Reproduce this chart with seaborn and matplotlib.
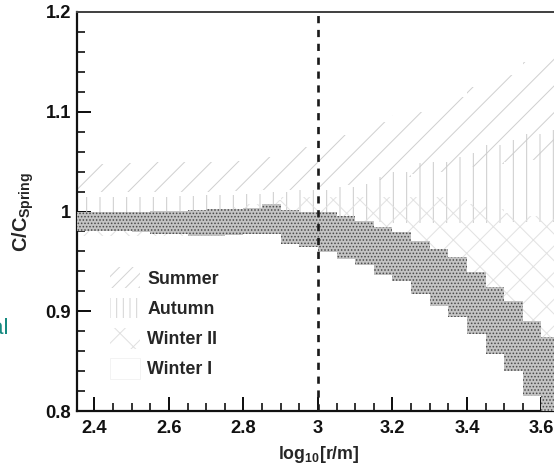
import matplotlib
matplotlib.use('Agg')
import matplotlib.pyplot as plt
from matplotlib.patches import Patch
from matplotlib.ticker import FixedLocator, MultipleLocator, FuncFormatter
import seaborn as sns

# data: bands per log10(r) bin (left edges, width 0.05)
bin_left = [2.35, 2.40, 2.45, 2.50, 2.55, 2.60, 2.65, 2.70, 2.75, 2.80, 2.85, 2.90, 2.95,
            3.00, 3.05, 3.10, 3.15, 3.20, 3.25, 3.30, 3.35, 3.40, 3.45, 3.50, 3.55, 3.60]
bin_right_edge = 3.65

summer_hi = [1.048, 1.048, 1.049, 1.049, 1.050, 1.050, 1.050, 1.050, 1.051, 1.052, 1.055, 1.060, 1.065,
             1.070, 1.077, 1.080, 1.090, 1.097, 1.100, 1.105, 1.115, 1.125, 1.132, 1.137, 1.150, 1.158]
summer_lo = [1.020, 1.020, 1.020, 1.020, 1.020, 1.020, 1.020, 1.020, 1.021, 1.021, 1.022, 1.022, 1.024,
             1.025, 1.027, 1.030, 1.032, 1.035, 1.038, 1.040, 1.043, 1.045, 1.048, 1.050, 1.052, 1.055]

autumn_hi = [1.015, 1.015, 1.015, 1.015, 1.015, 1.016, 1.016, 1.017, 1.017, 1.018, 1.020, 1.020, 1.022,
             1.022, 1.025, 1.028, 1.035, 1.040, 1.049, 1.050, 1.055, 1.059, 1.067, 1.072, 1.078, 1.082]
autumn_lo = [0.990, 0.990, 0.990, 0.990, 0.990, 0.990, 0.990, 0.990, 0.990, 0.990, 0.990, 0.990, 0.990,
             0.990, 0.990, 0.989, 0.989, 0.988, 0.988, 0.988, 0.988, 0.988, 0.988, 0.989, 0.989, 0.989]

winter2_hi = [0.995, 0.995, 0.995, 0.995, 0.995, 0.996, 0.998, 1.000, 1.005, 1.008, 1.012, 1.015, 1.015,
              1.015, 1.015, 1.015, 1.015, 1.015, 1.015, 1.015, 1.012, 1.008, 1.003, 0.998, 0.995, 0.993]
winter2_lo = [0.975, 0.975, 0.975, 0.975, 0.975, 0.975, 0.975, 0.976, 0.977, 0.978, 0.978, 0.975, 0.972,
              0.968, 0.963, 0.958, 0.950, 0.945, 0.935, 0.925, 0.915, 0.900, 0.885, 0.870, 0.855, 0.840]

winter1_hi = [1.000, 1.000, 1.000, 1.000, 1.001, 1.001, 1.002, 1.003, 1.003, 1.004, 1.008, 1.002, 1.000,
              0.999, 0.995, 0.990, 0.984, 0.979, 0.970, 0.962, 0.954, 0.939, 0.924, 0.910, 0.890, 0.874]
winter1_lo = [0.980, 0.980, 0.980, 0.979, 0.977, 0.977, 0.975, 0.975, 0.976, 0.977, 0.977, 0.967, 0.964,
              0.959, 0.952, 0.946, 0.936, 0.930, 0.917, 0.905, 0.894, 0.877, 0.857, 0.840, 0.815, 0.795]

seasons = ['Summer', 'Autumn', 'Winter II', 'Winter I']
xticks = [2.4, 2.6, 2.8, 3.0, 3.2, 3.4, 3.6]
yticks = [0.8, 0.9, 1.0, 1.1, 1.2]

sns.set_style('ticks')
plt.rcParams['font.family'] = ['Liberation Sans', 'DejaVu Sans']
plt.rcParams['font.weight'] = 'bold'
plt.rcParams['axes.labelweight'] = 'bold'
plt.rcParams['mathtext.fontset'] = 'custom'
plt.rcParams['mathtext.rm'] = 'Liberation Sans:bold'
plt.rcParams['mathtext.bf'] = 'Liberation Sans:bold'
plt.rcParams['hatch.linewidth'] = 0.9

fig = plt.figure(figsize=(554 / 80, 472 / 80), dpi=80)
ax = fig.add_axes([76.6 / 554, 61 / 472, 483.5 / 554, 399 / 472])

edges = bin_left + [bin_right_edge]


def band(lo, hi, **kw):
    ax.fill_between(edges, lo + [lo[-1]], hi + [hi[-1]], step='post', lw=0, **kw)


band(summer_lo, summer_hi, facecolor='none', edgecolor='#d0d0d0', hatch='/', zorder=1)
band(autumn_lo, autumn_hi, facecolor='none', edgecolor='#cccccc', hatch='|', zorder=2)
band(winter2_lo, winter2_hi, facecolor='none', edgecolor='#e2e2e2', hatch='x', zorder=3)
band(winter1_lo, winter1_hi, facecolor='#c4c4c4', edgecolor='#4a4a4a', hatch='....', zorder=4)

ax.axvline(3.0, color='#1a1a1a', lw=2.4, dashes=(2.7, 2.5), zorder=6)

ax.set_xlim(2.352, 3.65)
ax.set_ylim(0.8, 1.2)
ax.xaxis.set_major_locator(FixedLocator(xticks))
ax.yaxis.set_major_locator(FixedLocator(yticks))
ax.xaxis.set_minor_locator(MultipleLocator(0.05))
ax.yaxis.set_minor_locator(MultipleLocator(0.02))
fmt = FuncFormatter(lambda v, p: '%g' % round(v, 2))
ax.xaxis.set_major_formatter(fmt)
ax.yaxis.set_major_formatter(fmt)

ax.tick_params(which='major', direction='in', length=12.5, width=1.8, labelsize=16.5,
               top=False, right=False, colors='#111111')
ax.tick_params(axis='y', which='major', pad=5)
ax.tick_params(axis='x', which='major', pad=8)
ax.tick_params(which='minor', direction='in', length=7, width=1.5, top=False, right=False,
               colors='#111111')

for s in ['left', 'bottom']:
    ax.spines[s].set_linewidth(2.0)
    ax.spines[s].set_color('#111111')
ax.spines['top'].set_linewidth(1.8)
ax.spines['top'].set_color('#444444')
ax.spines['right'].set_visible(False)

ax.set_xlabel(r'log$_{10}$[r/m]', fontsize=16, labelpad=6)
ax.set_ylabel(r'C/C$_{\mathrm{Spring}}$', fontsize=18)
ax.yaxis.set_label_coords(-0.085, 0.5)

handles = [
    Patch(facecolor='white', edgecolor='#d4d4d4', hatch='//', lw=0),
    Patch(facecolor='white', edgecolor='#d4d4d4', hatch='||', lw=0),
    Patch(facecolor='white', edgecolor='#e0e0e0', hatch='x', lw=0),
    Patch(facecolor='white', edgecolor='#f2f2f2', lw=0.8),
]
ax.legend(handles, seasons, loc='upper left', bbox_to_anchor=(0.069, 0.36), frameon=False,
          fontsize=16, handlelength=1.7, handleheight=1.4, handletextpad=0.4,
          labelspacing=0.55, borderpad=0, borderaxespad=0)

fig.text(8 / 554, 1 - 329 / 472, 'al', color='#168a80', fontsize=20, fontweight='normal',
         ha='right', va='center')

fig.savefig('out.png', dpi=80)
